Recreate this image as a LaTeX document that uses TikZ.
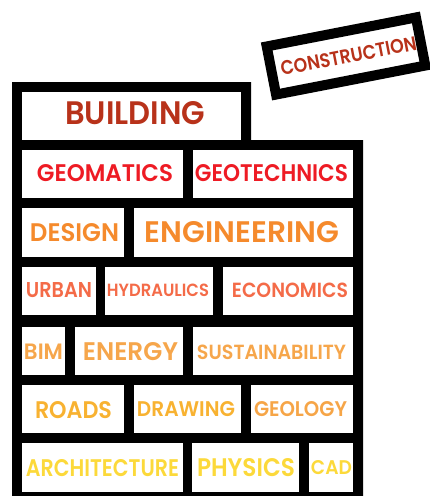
\documentclass[tikz,border=0pt]{standalone}
\usepackage{graphicx}
\usepackage{fontspec}
\setmainfont{Poppins}[BoldFont={Poppins SemiBold}]
\definecolor{rust}{HTML}{B8321A}
\definecolor{redc}{HTML}{EE1B24}
\definecolor{orangeA}{HTML}{F58A2C}
\definecolor{coral}{HTML}{F46B48}
\definecolor{lightor}{HTML}{F6A64B}
\definecolor{amber}{HTML}{F8B231}
\definecolor{geol}{HTML}{F6A547}
\definecolor{yell}{HTML}{FCD93A}
\newcommand{\captxt}[3]{\resizebox{#1pt}{#2pt}{\bfseries #3}}
\tikzset{
  brick/.style={fill=white, inner sep=0pt, anchor=north west},
  lbl/.style={inner sep=0pt, anchor=center},
}
\begin{document}
\begin{tikzpicture}[x=1pt,y=-1pt]
\useasboundingbox (0,0) rectangle (429,496);
% black wall
\fill[black] (12,82) -- (251,82) -- (251,140) -- (363,140) -- (363,496) -- (12,496) -- cycle;
% bricks
\node[brick, minimum width=219pt, minimum height=48pt] (building) at (22,92) {};
\node[brick, minimum width=161pt, minimum height=48pt] (geomatics) at (22,150) {};
\node[brick, minimum width=160pt, minimum height=48pt] (geotechnics) at (193,150) {};
\node[brick, minimum width=102pt, minimum height=49pt] (design) at (22,208) {};
\node[brick, minimum width=219pt, minimum height=49pt] (engineering) at (134,208) {};
\node[brick, minimum width=74pt, minimum height=48pt] (urban) at (22,267) {};
\node[brick, minimum width=108pt, minimum height=48pt] (hydraulics) at (105,267) {};
\node[brick, minimum width=130pt, minimum height=48pt] (economics) at (223,267) {};
\node[brick, minimum width=43pt, minimum height=48pt] (bim) at (22,327) {};
\node[brick, minimum width=108pt, minimum height=48pt] (energy) at (75,327) {};
\node[brick, minimum width=160pt, minimum height=48pt] (sustainability) at (193,327) {};
\node[brick, minimum width=102pt, minimum height=48pt] (roads) at (22,385) {};
\node[brick, minimum width=107pt, minimum height=48pt] (drawing) at (134,385) {};
\node[brick, minimum width=102pt, minimum height=48pt] (geology) at (251,385) {};
\node[brick, minimum width=161pt, minimum height=49pt] (architecture) at (22,443) {};
\node[brick, minimum width=107pt, minimum height=49pt] (physics) at (192,443) {};
\node[brick, minimum width=44pt, minimum height=49pt] (cad) at (309,443) {};
% labels
\node[lbl, text=rust] (t-building) at (135,113.3) {\captxt{140}{23}{BUILDING}};
\node[lbl, text=redc] (t-geomatics) at (105,173.3) {\captxt{136}{17}{GEOMATICS}};
\node[lbl, text=redc] (t-geotechnics) at (271.5,173.3) {\captxt{153}{17}{GEOTECHNICS}};
\node[lbl, text=orangeA] (t-design) at (74.5,232.5) {\captxt{89}{18}{DESIGN}};
\node[lbl, text=orangeA] (t-engineering) at (242,232) {\captxt{194}{21}{ENGINEERING}};
\node[lbl, text=coral] (t-urban) at (59,290) {\captxt{66}{15}{URBAN}};
\node[lbl, text=coral] (t-hydraulics) at (158,290.5) {\captxt{102}{12.5}{HYDRAULICS}};
\node[lbl, text=coral] (t-economics) at (290,290.5) {\captxt{116}{14.5}{ECONOMICS}};
\node[lbl, text=lightor] (t-bim) at (43.5,351.7) {\captxt{39}{15.5}{BIM}};
\node[lbl, text=lightor] (t-energy) at (130.5,352) {\captxt{95}{18}{ENERGY}};
\node[lbl, text=lightor] (t-sustainability) at (271.5,352) {\captxt{149}{14.5}{SUSTAINABILITY}};
\node[lbl, text=amber] (t-roads) at (73.5,409.7) {\captxt{77}{17}{ROADS}};
\node[lbl, text=amber] (t-drawing) at (186,409) {\captxt{98}{15}{DRAWING}};
\node[lbl, text=geol] (t-geology) at (300.5,409) {\captxt{93}{15}{GEOLOGY}};
\node[lbl, text=yell] (t-architecture) at (102.5,467.7) {\captxt{153}{17}{ARCHITECTURE}};
\node[lbl, text=yell] (t-physics) at (246,467.5) {\captxt{98}{18}{PHYSICS}};
\node[lbl, text=yell] (t-cad) at (331.5,467.5) {\captxt{41}{14}{CAD}};
% stamp
\node[draw=black, line width=10pt, fill=white, inner sep=0pt, minimum width=152pt, minimum height=49pt, rotate=11] (stamp) at (346,56) {};
\node[lbl, text=rust, rotate=11] (t-construction) at (348.5,56) {\captxt{138}{14}{CONSTRUCTION}};
\end{tikzpicture}
\end{document}
